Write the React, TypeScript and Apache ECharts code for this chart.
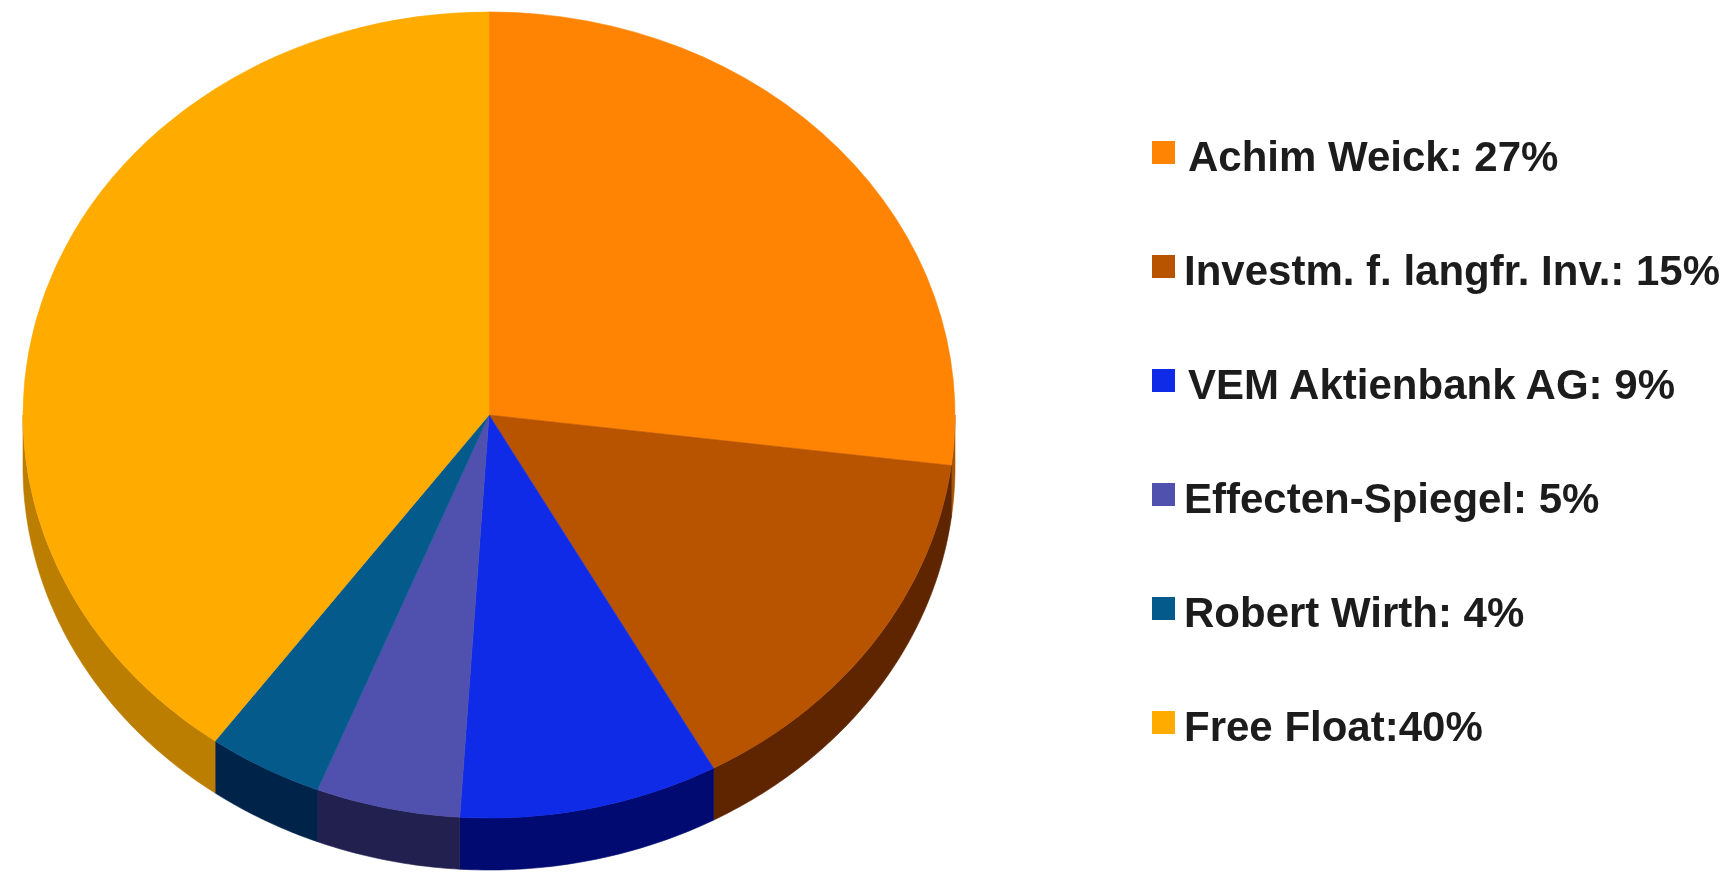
import React, { useEffect, useRef } from "react";
import * as echarts from "echarts";

const holders = [
  "Achim Weick: 27%",
  "Investm. f. langfr. Inv.: 15%",
  "VEM Aktienbank AG: 9%",
  "Effecten-Spiegel: 5%",
  "Robert Wirth: 4%",
  "Free Float:40%",
];
const shares = [27, 15, 9, 5, 4, 40];
const topColors = ["#FF8403", "#B85300", "#0F2BE8", "#5050AE", "#055A8C", "#FFAB00"];
const sideColors = ["#A85400", "#5F2500", "#000A70", "#22204F", "#00234A", "#BC7E00"];
const legendTextStyle = ["wide", "narrow", "wide", "narrow", "narrow", "narrow"];

const CX = 489;
const CY = 415;
const RX = 466;
const RY = 403;
const DEPTH = 52;
const TOTAL = shares.reduce((a, b) => a + b, 0);

function startOf(i: number) {
  return shares.slice(0, i).reduce((a, b) => a + b, 0);
}

function sliceRenderer(i: number) {
  return (_params: any, api: any) => {
    const value = api.value(0);
    const a0 = -Math.PI / 2 + (startOf(i) / TOTAL) * Math.PI * 2;
    const a1 = a0 + (value / TOTAL) * Math.PI * 2;
    const children: any[] = [];
    // The wall is only visible on the front half of the disc (angles 0..PI).
    const w0 = Math.max(a0, 0);
    const w1 = Math.min(a1, Math.PI);
    if (w1 > w0) {
      const steps = Math.max(2, Math.ceil((w1 - w0) * 80));
      const upper: number[][] = [];
      const lower: number[][] = [];
      for (let s = 0; s <= steps; s++) {
        const a = w0 + ((w1 - w0) * s) / steps;
        const x = CX + RX * Math.cos(a);
        const y = CY + RY * Math.sin(a);
        upper.push([x, y]);
        lower.unshift([x, y + DEPTH]);
      }
      children.push({
        type: "polygon",
        shape: { points: upper.concat(lower) },
        style: { fill: sideColors[i], stroke: sideColors[i], lineWidth: 0.6 },
      });
    }
    children.push({
      type: "sector",
      x: CX,
      y: CY,
      scaleY: RY / RX,
      shape: { cx: 0, cy: 0, r0: 0, r: RX, startAngle: a0, endAngle: a1, clockwise: true },
      style: { fill: topColors[i], stroke: topColors[i], lineWidth: 0.6 },
    });
    return { type: "group", children };
  };
}

const labelFont = {
  fontFamily: "Liberation Sans",
  fontWeight: "bold",
  fontSize: 42,
  color: "#1c1c1c",
};

export default function App() {
  const ref = useRef<HTMLDivElement>(null);
  useEffect(() => {
    const chart = echarts.init(ref.current!, undefined, { renderer: "svg" });
    chart.setOption({
      animation: false,
      backgroundColor: "#ffffff",
      legend: {
        orient: "vertical",
        left: 1152,
        top: 135.5,
        padding: 0,
        itemWidth: 23,
        itemHeight: 23,
        itemGap: 72,
        selectedMode: false,
        icon: "rect",
        formatter: (name: string) => `{${legendTextStyle[holders.indexOf(name)]}|${name}}`,
        textStyle: {
          ...labelFont,
          rich: {
            wide: { ...labelFont, padding: [8, 0, 0, 8] },
            narrow: { ...labelFont, padding: [8, 0, 0, 4] },
          },
        },
        data: holders.map((name, i) => ({
          name,
          itemStyle: { color: topColors[i] },
        })),
      },
      series: holders.map((name, i) => ({
        type: "custom",
        name,
        coordinateSystem: "none",
        silent: true,
        itemStyle: { color: topColors[i] },
        renderItem: sliceRenderer(i),
        data: [[shares[i]]],
      })),
    });
    return () => chart.dispose();
  }, []);
  return (
    <div
      ref={ref}
      style={{
        position: "fixed",
        left: 0,
        top: 0,
        width: 1732,
        height: 872,
        filter: "blur(0.7px)",
      }}
    />
  );
}
